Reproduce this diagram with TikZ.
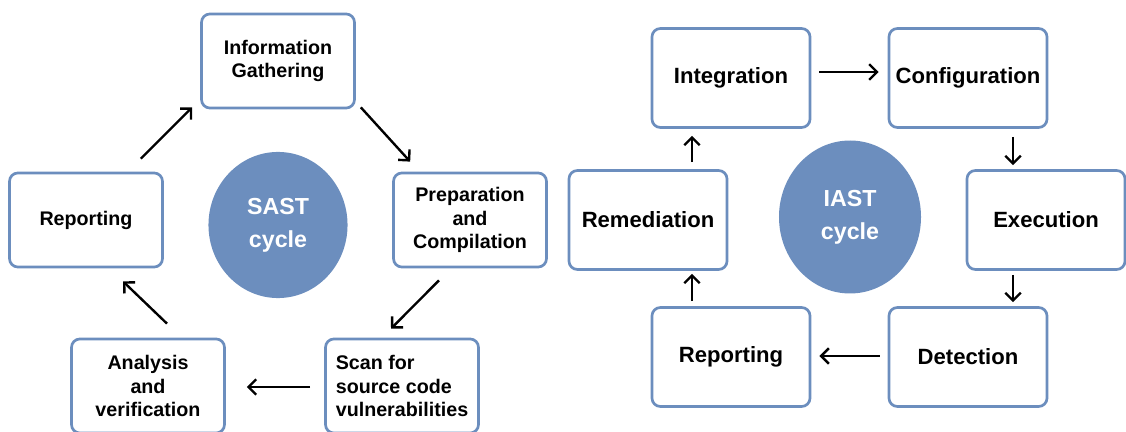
\documentclass[tikz,border=0pt]{standalone}
\usepackage{fontspec}
\setmainfont{Liberation Sans}
\usetikzlibrary{arrows.meta,calc,shapes.geometric}
\definecolor{cycleblue}{RGB}{108,142,190}
\tikzset{stage/.style={draw=cycleblue,line width=1.9pt,rounded corners=6pt,fill=white,
   align=center,inner sep=2pt,minimum width=108.8pt,minimum height=66.9pt,
   font=\fontsize{14}{17}\selectfont\bfseries},
 bigstage/.style={stage,minimum width=112.4pt,minimum height=70.4pt,
   font=\fontsize{15.7}{19}\selectfont\bfseries},
 hub/.style={ellipse,fill=cycleblue,text=white,align=center,inner sep=0pt,
   font=\fontsize{16.5}{23.5}\selectfont\bfseries},
 flow/.style={line width=1.7pt,-{Straight Barb[length=5.5pt,width=11pt]}},
 }

\begin{document}
\begin{tikzpicture}[x=0.025cm,y=-0.025cm]
        \useasboundingbox (0,0) rectangle (1126,432);
        \node[stage] (info) at (278,61) {Information\\Gathering};
        \node[stage] (prep) at (470,220) {Preparation\\and\\Compilation};
        \node[stage,align=left] (scan) at (402,386) {Scan for\\source code\\vulnerabilities};
        \node[stage] (analysis) at (148,386) {Analysis\\and\\verification};
        \node[stage] (report) at (86,220) {Reporting};
        \node[hub,minimum width=98.9pt,minimum height=103.9pt] (sast) at (278,225) {SAST\\cycle};
        \draw[flow] ($(report.north east)+(-23,-13)$) -- ($(info.south west)+(-8,-2)$);
        \draw[flow] ($(info.south east)+(5,-2)$) -- ($(prep.north west)+(18,-10)$);
        \draw[flow] ($(prep.south)+(-31,12)$) -- ($(scan.north)+(-11,-9)$);
        \draw[flow] ($(scan.west)+(-14,1)$) -- ($(analysis.east)+(21,1)$);
        \draw[flow] ($(analysis.north)+(19,-14)$) -- ($(report.south)+(37,13)$);
        \node[bigstage] (integ) at (731,78) {Integration};
        \node[bigstage] (config) at (968,78) {Configuration};
        \node[bigstage] (exec) at (1046,220) {Execution};
        \node[bigstage] (detect) at (968,357) {Detection};
        \node[bigstage] (ireport) at (731,357) {Reporting};
        \node[bigstage] (remed) at (648,220) {Remediation};
        \node[hub,minimum width=101pt,minimum height=108.8pt] (iast) at (850,217) {IAST\\cycle};
        \draw[flow] ($(integ.east)+(8,-6)$) -- ($(config.west)+(-9,-6)$);
        \draw[flow] ($(config.south)+(45,8)$) -- ($(exec.north)+(-33,-4)$);
        \draw[flow] ($(exec.south)+(-33,4)$) -- ($(detect.north)+(45,-4)$);
        \draw[flow] ($(detect.west)+(-8,-1)$) -- ($(ireport.east)+(8,-1)$);
        \draw[flow] ($(ireport.north)+(-39,-5)$) -- ($(remed.south)+(44,3)$);
        \draw[flow] ($(remed.north)+(44,-7)$) -- ($(integ.south)+(-39,7)$);
    \end{tikzpicture}
\end{document}
